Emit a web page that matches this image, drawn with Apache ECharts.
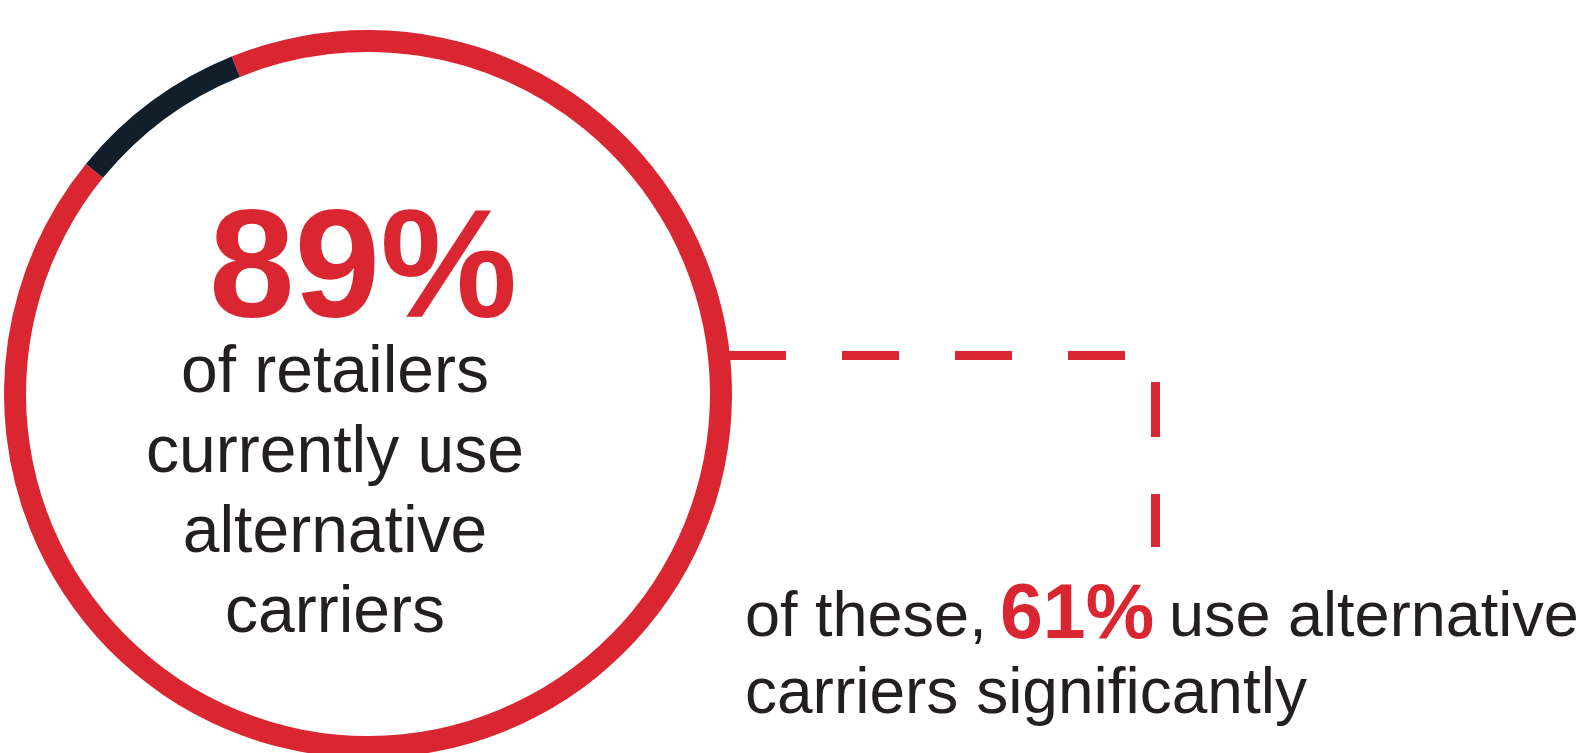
<!DOCTYPE html>
<html>
<head>
<meta charset="utf-8">
<title>Alternative carriers</title>
<script src="https://cdn.jsdelivr.net/npm/echarts@6/dist/echarts.min.js"></script>
<style>
  html, body { margin: 0; padding: 0; background: #ffffff; }
  #main { width: 1586px; height: 753px; }
</style>
</head>
<body>
<div id="main"></div>
<script>
// ring segments (dark piece spans about 29 degrees)
const ringNames = ['use alternative carriers', 'other']
const ringValues = [92, 8]
const ringColors = ['#da2630', '#121e29']

// headline numbers and text
const mainStat = '89%'
const mainLines = ['of retailers', 'currently use', 'alternative', 'carriers']
const subStat = '61%'
const subBefore = 'of these,'
const subAfter = 'use alternative'
const subLine2 = 'carriers significantly'

const RED = '#da2630'
const INK = '#231f20'
const FONT = '"Liberation Sans", Arial, Helvetica, sans-serif'

let chartDom = document.getElementById('main')
let myChart = echarts.init(chartDom)

let option = {
  backgroundColor: '#ffffff',
  animation: false,
  series: [
    {
      type: 'pie',
      silent: true,
      center: [368, 394],
      radius: [342, 364],
      startAngle: 112,
      clockwise: true,
      label: { show: false },
      labelLine: { show: false },
      emphasis: { disabled: true },
      data: ringValues.map((v, i) => ({
        name: ringNames[i],
        value: v,
        itemStyle: { color: ringColors[i] }
      }))
    }
  ],
  graphic: [
    // big number in the ring
    {
      type: 'text',
      x: 363,
      y: 275,
      style: {
        text: mainStat,
        fill: RED,
        font: 'bold 154px ' + FONT,
        align: 'center',
        verticalAlign: 'middle'
      }
    },
    {
      type: 'text',
      x: 335,
      y: 334,
      style: {
        text: mainLines.join('\n'),
        fill: INK,
        font: '66px ' + FONT,
        lineHeight: 80,
        align: 'center',
        verticalAlign: 'top'
      }
    },
    // dashed connector
    {
      type: 'line',
      shape: { x1: 729, y1: 355.5, x2: 1125, y2: 355.5 },
      style: { stroke: RED, lineWidth: 9, lineDash: [57, 56] }
    },
    {
      type: 'line',
      shape: { x1: 1155.5, y1: 382, x2: 1155.5, y2: 547 },
      style: { stroke: RED, lineWidth: 9, lineDash: [55, 57] }
    },
    // side note
    {
      type: 'text',
      x: 745,
      y: 619,
      style: {
        text: subBefore,
        fill: INK,
        font: '63px ' + FONT,
        align: 'left',
        verticalAlign: 'middle'
      }
    },
    {
      type: 'text',
      x: 1000,
      y: 617,
      style: {
        text: subStat,
        fill: RED,
        font: 'bold 77px ' + FONT,
        align: 'left',
        verticalAlign: 'middle'
      }
    },
    {
      type: 'text',
      x: 1169,
      y: 619,
      style: {
        text: subAfter,
        fill: INK,
        font: '63px ' + FONT,
        align: 'left',
        verticalAlign: 'middle'
      }
    },
    {
      type: 'text',
      x: 745,
      y: 695,
      style: {
        text: subLine2,
        fill: INK,
        font: '64px ' + FONT,
        align: 'left',
        verticalAlign: 'middle'
      }
    }
  ]
}

option && myChart.setOption(option)
</script>
</body>
</html>
